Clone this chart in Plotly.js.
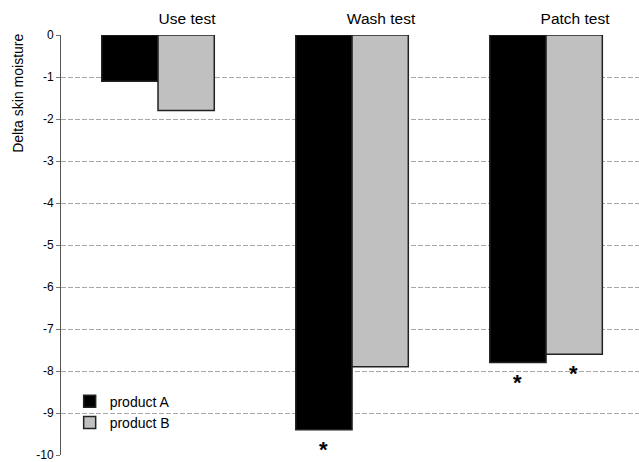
<!DOCTYPE html>
<html>
<head>
<meta charset="utf-8">
<script src="https://cdn.plot.ly/plotly-3.0.1.min.js"></script>
<style>html,body{margin:0;padding:0;background:#fff;}#chart{width:639px;height:462px;}</style>
</head>
<body>
<div id="chart"></div>
<script>
// Data
var categories = ["Use test", "Wash test", "Patch test"];
var seriesNames = ["product A", "product B"];
var productA = [-1.1, -9.4, -7.8];
var productB = [-1.8, -7.9, -7.6];
var starA = [false, true, true];
var starB = [false, false, true];
var yTicks = [0, -1, -2, -3, -4, -5, -6, -7, -8, -9, -10];

var traces = [
  {type: "bar", name: seriesNames[0], x: categories, y: productA,
   marker: {color: "#000000", line: {color: "#222222", width: 1.5}}},
  {type: "bar", name: seriesNames[1], x: categories, y: productB,
   marker: {color: "#c0c0c0", line: {color: "#222222", width: 1.5}}}
];

var annotations = [];
function addStars(vals, flags, shift) {
  for (var i = 0; i < vals.length; i++) {
    if (flags[i]) {
      annotations.push({x: categories[i], y: vals[i], xref: "x", yref: "y",
        text: "<b>*</b>", showarrow: false, xshift: shift, yanchor: "top", yshift: -5,
        font: {family: "Liberation Sans, Arial, sans-serif", size: 22, color: "#000"}});
    }
  }
}
addStars(productA, starA, -29);
addStars(productB, starB, 27);

annotations.push({xref: "paper", yref: "paper", x: -0.075, y: 1.008, xanchor: "center", yanchor: "top",
  text: "Delta skin moisture", textangle: -90, showarrow: false,
  font: {family: "Liberation Sans, Arial, sans-serif", size: 14, color: "#000"}});

var layout = {
  width: 639, height: 462,
  margin: {l: 61, r: 0, t: 35, b: 7},
  paper_bgcolor: "#ffffff", plot_bgcolor: "#ffffff",
  font: {family: "Liberation Sans, Arial, sans-serif", color: "#000"},
  barmode: "group", bargap: 0.42, bargroupgap: 0,
  showlegend: true,
  legend: {x: 0.015, y: 0.165, xanchor: "left", yanchor: "top", bgcolor: "rgba(0,0,0,0)",
    font: {size: 14, color: "#000"}, tracegroupgap: 0, itemwidth: 30},
  xaxis: {type: "category", side: "top", range: [-0.5, 2.479], showgrid: false, zeroline: false,
    showline: false, ticks: "", tickfont: {size: 15.5, color: "#000"}, ticklabelshift: 29,
    ticklabelstandoff: 7, fixedrange: true},
  yaxis: {range: [-10, 0], tickvals: yTicks, ticktext: yTicks.map(String), showgrid: true,
    gridcolor: "#a8a8a8", griddash: "5px,2px", gridwidth: 1, zeroline: false,
    showline: true, linecolor: "#555555", linewidth: 1, ticks: "outside", ticklen: 4, tickcolor: "#777",
    tickfont: {size: 12, color: "#000"}, ticklabeloverflow: "allow", fixedrange: true},
  annotations: annotations
};

Plotly.newPlot("chart", traces, layout, {displayModeBar: false, staticPlot: true});
</script>
</body>
</html>
